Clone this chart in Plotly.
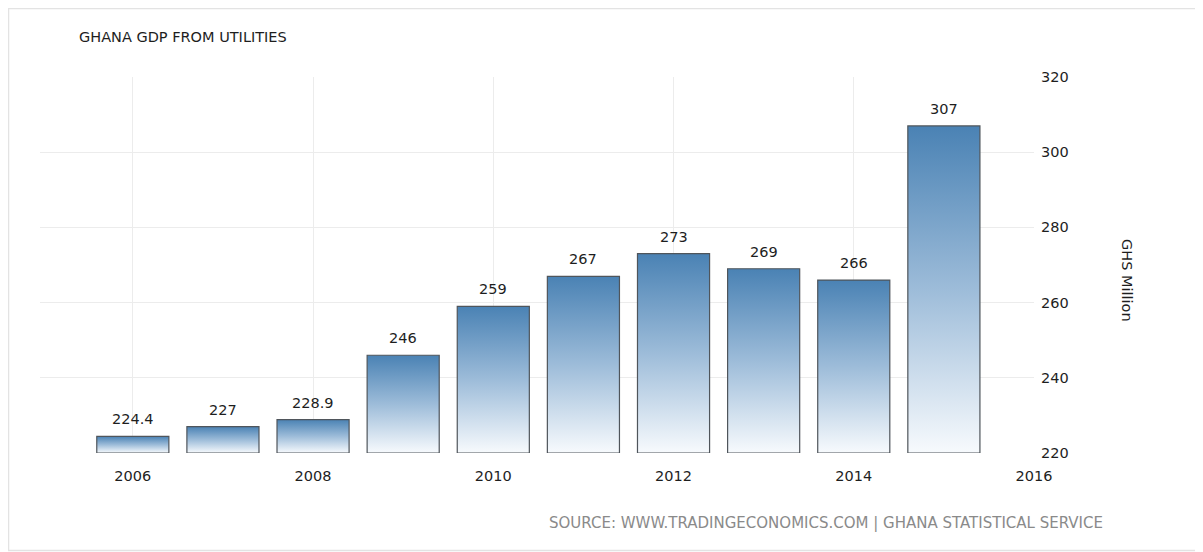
import plotly.graph_objects as go

years = [2006, 2007, 2008, 2009, 2010, 2011, 2012, 2013, 2014, 2015]
values = [224.4, 227, 228.9, 246, 259, 267, 273, 269, 266, 307]
labels = ["224.4", "227", "228.9", "246", "259", "267", "273", "269", "266", "307"]
x_ticks = [2006, 2008, 2010, 2012, 2014, 2016]
y_ticks = [220, 240, 260, 280, 300, 320]

Y_MIN, Y_MAX = 220, 320
HALF_W = 0.4

# page body has an 8px default margin: compensate
OFF = 8
W, H = 1203 - OFF, 552 - OFF
ML, MT = 40 - OFF, 77 - OFF
PW, PH = 994, 376
MR = W - ML - PW
MB = H - MT - PH

FONT = "DejaVu Sans, sans-serif"

fig = go.Figure()

for yr, v in zip(years, values):
    fig.add_trace(go.Scatter(
        x=[yr - HALF_W, yr - HALF_W, yr + HALF_W, yr + HALF_W, yr - HALF_W],
        y=[Y_MIN, v, v, Y_MIN, Y_MIN],
        mode="lines",
        fill="toself",
        fillgradient=dict(
            type="vertical",
            colorscale=[[0, "#f7fafd"], [0.5, "#9dbcd9"], [1, "#4a82b4"]],
            start=Y_MIN, stop=v,
        ),
        line=dict(color="#4f555b", width=1.2),
        hoverinfo="skip",
        showlegend=False,
    ))

def px_x(p):
    return (p - OFF - ML) / PW

def px_y(p):
    return 1 - (p - OFF - MT) / PH

annotations = [
    dict(text=lab, x=yr, y=v, xref="x", yref="y",
         xanchor="center", yanchor="bottom", yshift=7, showarrow=False,
         font=dict(family=FONT, size=14.5, color="#1e1e1e"))
    for yr, v, lab in zip(years, values, labels)
]

annotations += [
    dict(text="GHANA GDP FROM UTILITIES", xref="paper", yref="paper",
         x=px_x(77), y=px_y(37), xanchor="left", yanchor="middle",
         showarrow=False,
         font=dict(family=FONT, size=14.5, color="#1e1e1e")),
    dict(text="GHS Million", xref="paper", yref="paper",
         x=px_x(1127), y=px_y(280), xanchor="center", yanchor="middle",
         textangle=90, showarrow=False,
         font=dict(family=FONT, size=14.5, color="#1e1e1e")),
    dict(text="SOURCE: WWW.TRADINGECONOMICS.COM | GHANA STATISTICAL SERVICE",
         xref="paper", yref="paper",
         x=px_x(1105), y=px_y(523), xanchor="right", yanchor="middle",
         showarrow=False,
         font=dict(family=FONT, size=15, color="#8a8a8a")),
]

fig.update_layout(
    width=W, height=H,
    margin=dict(l=ML, r=MR, t=MT, b=MB),
    paper_bgcolor="white",
    plot_bgcolor="white",
    showlegend=False,
    xaxis=dict(
        range=[2004.97, 2016.0],
        tickvals=x_ticks,
        ticktext=[str(t) for t in x_ticks],
        showgrid=True, gridcolor="#ececec", gridwidth=1,
        zeroline=False,
        showline=False,
        ticks="",
        ticklabelstandoff=12,
        tickfont=dict(family=FONT, size=14.5, color="#1e1e1e"),
    ),
    yaxis=dict(
        range=[Y_MIN, Y_MAX],
        side="right",
        tickvals=y_ticks,
        showgrid=True, gridcolor="#ececec", gridwidth=1,
        zeroline=False,
        showline=False,
        ticks="",
        ticklabelstandoff=6,
        tickfont=dict(family=FONT, size=14.5, color="#1e1e1e"),
    ),
    annotations=annotations,
    shapes=[
        dict(type="rect", xref="paper", yref="paper",
             x0=px_x(OFF + 0.5), x1=px_x(1201), y0=px_y(550.5), y1=px_y(OFF + 0.5),
             line=dict(color="#e3e3e3", width=1.5), fillcolor="rgba(0,0,0,0)",
             layer="below"),
    ],
)

fig.write_html("out.html")
